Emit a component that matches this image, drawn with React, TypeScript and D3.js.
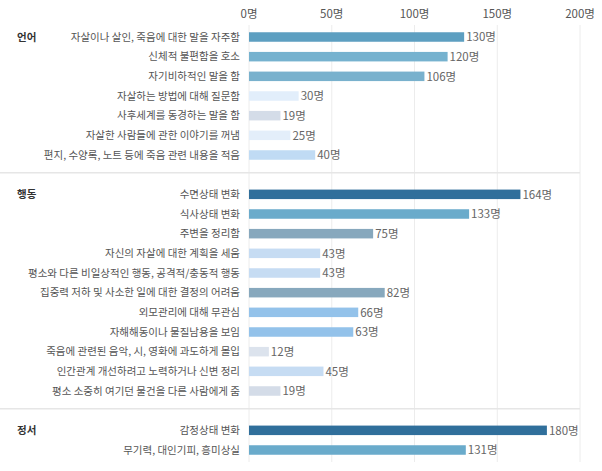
import React from "react";
import * as d3 from "d3";

const groups = ["언어", "행동", "정서"];
const groupOfRow = [0, 0, 0, 0, 0, 0, 0, 1, 1, 1, 1, 1, 1, 1, 1, 1, 1, 1, 2, 2];
const labels = [
  "자살이나 살인, 죽음에 대한 말을 자주함",
  "신체적 불편함을 호소",
  "자기비하적인 말을 함",
  "자살하는 방법에 대해 질문함",
  "사후세계를 동경하는 말을 함",
  "자살한 사람들에 관한 이야기를 꺼냄",
  "편지, 수양록, 노트 등에 죽음 관련 내용을 적음",
  "수면상태 변화",
  "식사상태 변화",
  "주변을 정리함",
  "자신의 자살에 대한 계획을 세움",
  "평소와 다른 비일상적인 행동, 공격적/충동적 행동",
  "집중력 저하 및 사소한 일에 대한 결정의 어려움",
  "외모관리에 대해 무관심",
  "자해해동이나 물질남용을 보임",
  "죽음에 관련된 음악, 시, 영화에 과도하게 몰입",
  "인간관계 개선하려고 노력하거나 신변 정리",
  "평소 소중히 여기던 물건을 다른 사람에게 줌",
  "감정상태 변화",
  "무기력, 대인기피, 흥미상실",
];
const values = [130, 120, 106, 30, 19, 25, 40, 164, 133, 75, 43, 43, 82, 66, 63, 12, 45, 19, 180, 131];
const ticks = [0, 50, 100, 150, 200];
const barColors = [
  "#5d9fc1", "#76b2cf", "#79b1cd", "#e2eefb", "#d4dce8", "#e3eefa", "#c0dbf4",
  "#306f9b", "#6aabcb", "#87a8bd", "#c6dcf3", "#c6dcf3", "#87a8bd", "#93c2ea", "#93c2ea",
  "#dce3ed", "#c6dcf3", "#d4dce8",
  "#306f9b", "#6aabcb",
];

const W = 602;
const H = 471;
const FONT = "'Noto Sans CJK KR', 'Noto Sans', sans-serif";

export default function App() {
  const x = d3.scaleLinear().domain([0, 200]).range([249, 580]);
  // slot index: group gaps of one row
  const slots = groupOfRow.map((g, i) => i + g);
  const y = d3.scaleLinear().domain([0, 21]).range([37, 450]);
  const barH = 9.5;
  const sepSlots = [7, 19];
  const firstRowOfGroup = groups.map((_, g) => groupOfRow.indexOf(g));

  return (
    <svg
      width={W}
      height={H}
      style={{ position: "absolute", left: 0, top: 0, background: "#fff", fontFamily: FONT }}
    >
      {ticks.map((t) => (
        <g key={t}>
          <line x1={x(t)} x2={x(t)} y1={25} y2={462} stroke="#ececec" strokeWidth={1} />
          <text x={x(t)} y={18} textAnchor="middle" fontSize={11.5} fill="#555">
            {t}명
          </text>
        </g>
      ))}
      {sepSlots.map((s) => (
        <line key={s} x1={0} x2={580} y1={y(s) - 2} y2={y(s) - 2} stroke="#e6e6e6" strokeWidth={1.5} />
      ))}
      {groups.map((g, gi) => (
        <text
          key={g}
          x={17}
          y={y(slots[firstRowOfGroup[gi]]) + 3.5}
          fontSize={10.5}
          fontWeight={700}
          fill="#333"
        >
          {g}
        </text>
      ))}
      {labels.map((l, i) => (
        <text key={l} x={240} y={y(slots[i]) + 3.8} textAnchor="end" fontSize={10.5} fill="#555">
          {l}
        </text>
      ))}
      {values.map((v, i) => (
        <g key={i}>
          <rect
            x={x(0)}
            y={y(slots[i]) - barH / 2}
            width={x(v) - x(0)}
            height={barH}
            fill={barColors[i]}
          />
          <text x={x(v) + 2} y={y(slots[i]) + 4.3} fontSize={11.5} fill="#666">
            {v}명
          </text>
        </g>
      ))}
    </svg>
  );
}
